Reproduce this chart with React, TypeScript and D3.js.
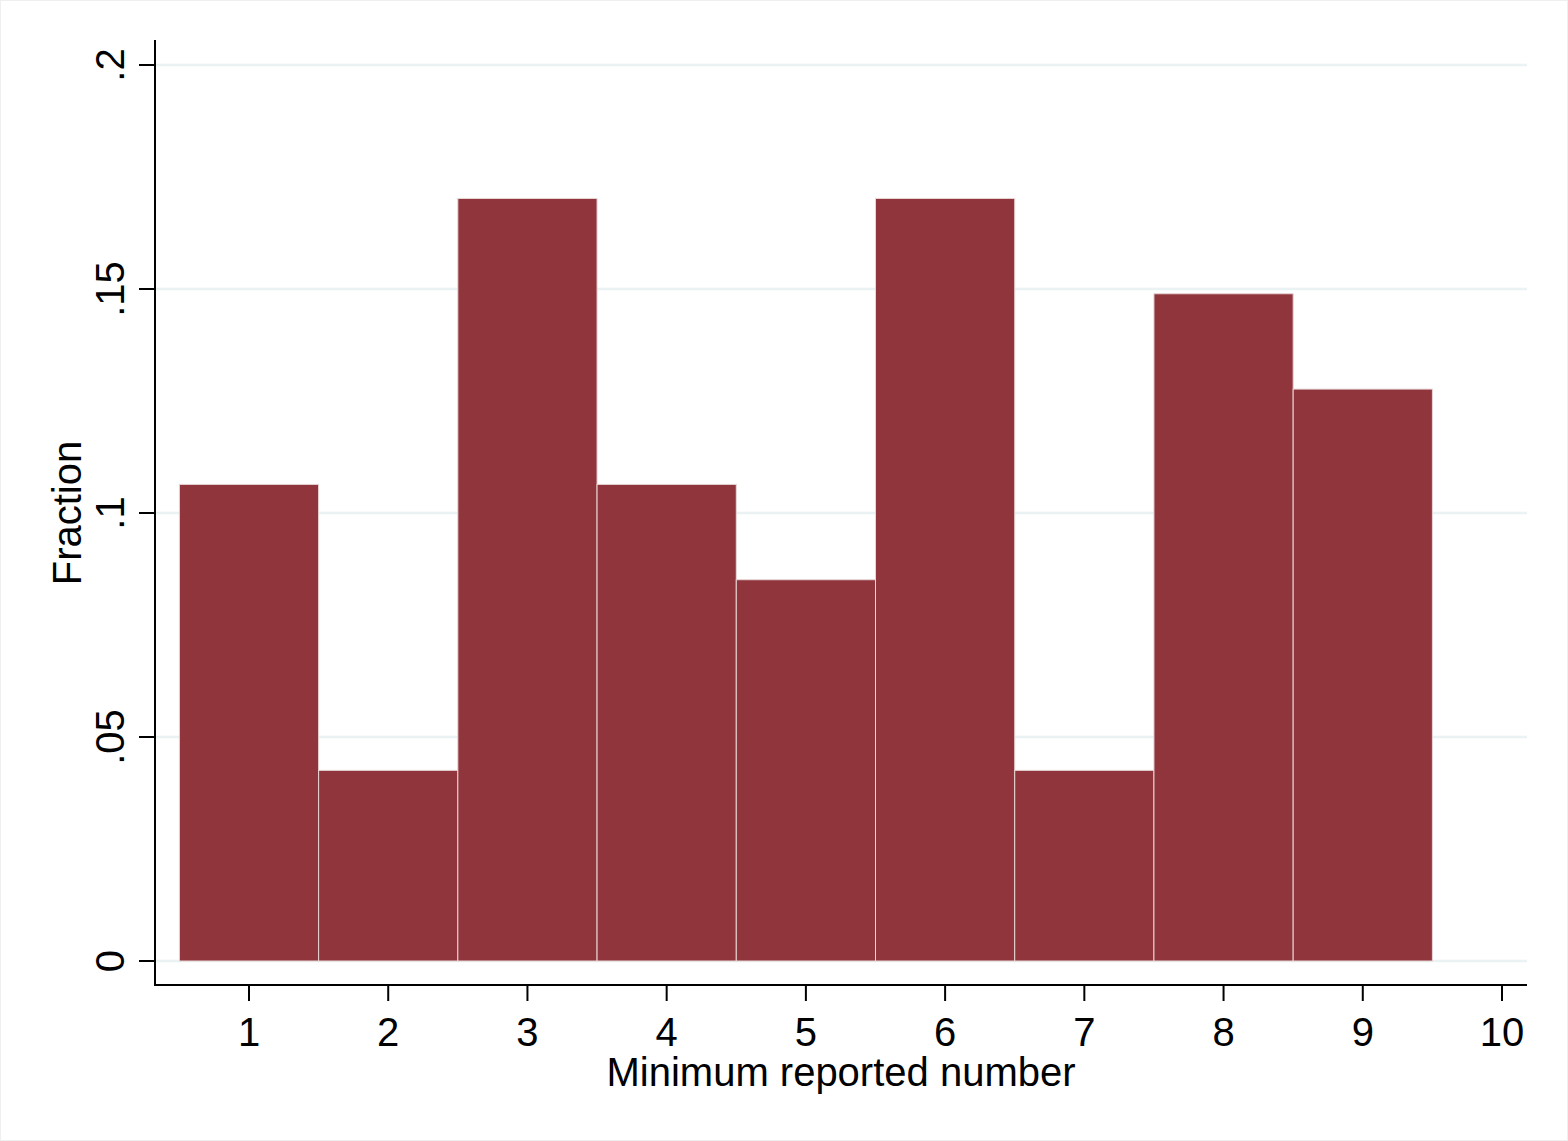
import React from "react";
import * as d3 from "d3";

const bins = [1, 2, 3, 4, 5, 6, 7, 8, 9];
const fractions = [5 / 47, 2 / 47, 8 / 47, 5 / 47, 4 / 47, 8 / 47, 2 / 47, 7 / 47, 6 / 47];
const yTicks = [0, 0.05, 0.1, 0.15, 0.2];
const yTickLabels = ["0", ".05", ".1", ".15", ".2"];
const xTicks = [1, 2, 3, 4, 5, 6, 7, 8, 9, 10];
const xTitle = "Minimum reported number";
const yTitle = "Fraction";

const W = 1568;
const H = 1141;
const left = 155;
const right = 1527;
const top = 40;
const bottom = 985;

export default function App() {
  const x = d3.scaleLinear().domain([1, 10]).range([249, 1502]);
  const y = d3.scaleLinear().domain([0, 0.2]).range([961, 65]);
  const font = "'Liberation Sans', Arial, sans-serif";
  return (
    <svg
      width={W}
      height={H}
      style={{ position: "absolute", left: 0, top: 0, background: "#fff" }}
      fontFamily={font}
    >
      <rect x={0.5} y={0.5} width={W - 1} height={H - 1} fill="#fff" stroke="#eef0f0" />
      {yTicks.map((t) => (
        <line key={"g" + t} x1={left} x2={right} y1={y(t)} y2={y(t)} stroke="#eaf2f3" strokeWidth={2.5} />
      ))}
      {bins.map((b, i) => (
        <rect
          key={b}
          x={x(b - 0.5)}
          y={y(fractions[i])}
          width={x(b + 0.5) - x(b - 0.5)}
          height={y(0) - y(fractions[i])}
          fill="#90353b"
          stroke="#e8d6d7"
          strokeWidth={1}
        />
      ))}
      <line x1={left} x2={left} y1={top} y2={bottom + 1} stroke="#000" strokeWidth={2} />
      <line x1={left} x2={right} y1={bottom} y2={bottom} stroke="#000" strokeWidth={2} />
      {yTicks.map((t, i) => (
        <g key={"y" + t}>
          <line x1={left - 16} x2={left} y1={y(t)} y2={y(t)} stroke="#000" strokeWidth={2} />
          <text
            transform={`translate(${124},${y(t)}) rotate(-90)`}
            textAnchor="middle"
            fontSize={40}
            fill="#000"
          >
            {yTickLabels[i]}
          </text>
        </g>
      ))}
      {xTicks.map((t) => (
        <g key={"x" + t}>
          <line x1={x(t)} x2={x(t)} y1={bottom} y2={bottom + 16} stroke="#000" strokeWidth={2} />
          <text x={x(t)} y={1046} textAnchor="middle" fontSize={40} fill="#000">
            {t}
          </text>
        </g>
      ))}
      <text x={(left + right) / 2} y={1086} textAnchor="middle" fontSize={40} fill="#000">
        {xTitle}
      </text>
      <text
        transform={`translate(${81},${513}) rotate(-90)`}
        textAnchor="middle"
        fontSize={40}
        fill="#000"
      >
        {yTitle}
      </text>
    </svg>
  );
}
